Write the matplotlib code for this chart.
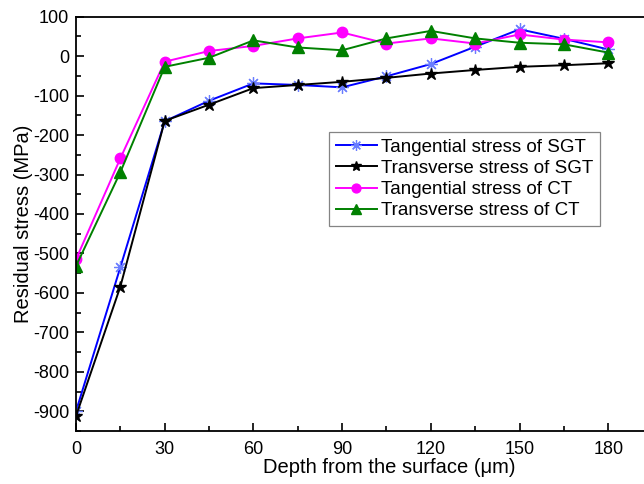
import matplotlib
matplotlib.use("Agg")
import matplotlib.pyplot as plt
from matplotlib.ticker import MultipleLocator

plt.rcParams['font.family'] = ['Liberation Sans', 'DejaVu Sans']
plt.rcParams['axes.unicode_minus'] = False

depth = [0, 15, 30, 45, 60, 75, 90, 105, 120, 135, 150, 165, 180]
tang_sgt = [-900, -535, -165, -113, -69, -73, -79, -51, -20, 24, 68, 44, 17]
trans_sgt = [-912, -584, -164, -123, -81, -73, -65, -55, -44, -35, -27, -23, -18]
tang_ct = [-515, -259, -14, 13, 26, 45, 60, 32, 45, 32, 55, 42, 35]
trans_ct = [-532, -294, -27, -4, 40, 22, 15, 45, 64, 45, 34, 30, 9]
x_ticks = [0, 30, 60, 90, 120, 150, 180]

labels = ["Tangential stress of SGT", "Transverse stress of SGT",
          "Tangential stress of CT", "Transverse stress of CT"]

# axes extends past the right edge of the picture (cropped)
x0, x1 = 76, 702
xmax = (x1 - x0) / 2.957

fig = plt.figure(figsize=(6.44, 4.84), dpi=100)
ax = fig.add_axes([x0/644, 1-431/484, (x1-x0)/644, (431-16.7)/484])

lw = 1.4
ax.plot(depth, tang_sgt, color='#0000ff', lw=lw, marker=(8, 2, 0), ms=9,
        mec='#6a7dff', mew=0.9, label=labels[0])
ax.plot(depth, trans_sgt, color='black', lw=lw, marker='*', ms=9,
        mfc='black', mec='black', label=labels[1])
ax.plot(depth, tang_ct, color='#ff00ff', lw=lw, marker='o', ms=7.5,
        mfc='#ff00ff', mec='#ff00ff', label=labels[2])
ax.plot(depth, trans_ct, color='#008000', lw=lw, marker='^', ms=8,
        mfc='#008000', mec='#008000', label=labels[3])

ax.set_xlim(0, xmax)
ax.set_ylim(-950, 100)
ax.set_xticks(x_ticks)
ax.xaxis.set_minor_locator(MultipleLocator(15))
ax.yaxis.set_major_locator(MultipleLocator(100))
ax.yaxis.set_minor_locator(MultipleLocator(50))
ax.tick_params(which='major', direction='in', length=6, width=1.2, labelsize=13)
ax.tick_params(which='minor', direction='in', length=3.5, width=1.2)
ax.tick_params(axis='x', pad=7)
ax.tick_params(axis='y', pad=5)
for s in ax.spines.values():
    s.set_linewidth(1.3)
ax.spines['right'].set_visible(False)

ax.set_xlabel("Depth from the surface (μm)", fontsize=14.5, labelpad=0)
ax.set_ylabel("Residual stress (MPa)", fontsize=14.5, labelpad=0)

leg_x = (329 - x0) / (x1 - x0)
leg = ax.legend(loc='upper left', bbox_to_anchor=(leg_x, 1-(132-16.7)/414.3),
                fontsize=13.5, frameon=True, fancybox=False, edgecolor='#666666',
                handlelength=2.2, handletextpad=0.25, borderpad=0.35, labelspacing=0.22,
                borderaxespad=0, markerscale=0.85)
leg.get_frame().set_linewidth(0.9)

fig.savefig("out.png", dpi=100)
